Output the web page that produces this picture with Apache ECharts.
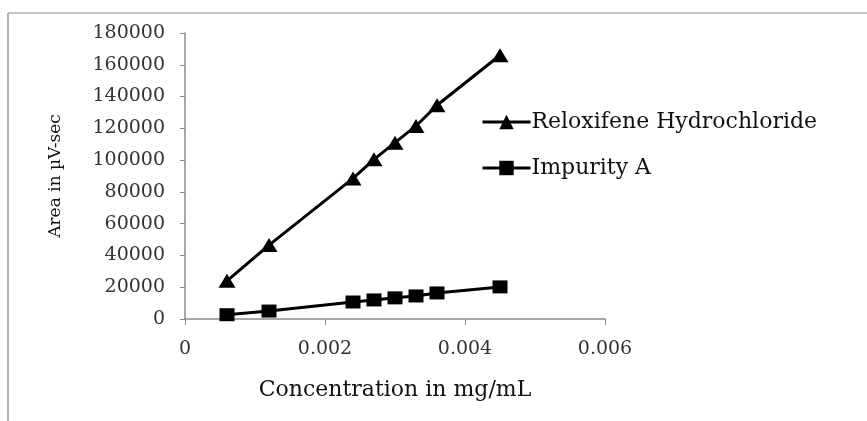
<!DOCTYPE html>
<html>
<head>
<meta charset="utf-8">
<script src="https://cdn.jsdelivr.net/npm/echarts@6/dist/echarts.min.js"></script>
<style>
  html, body { margin: 0; padding: 0; background: #fff; }
  #chart { width: 867px; height: 421px; }
</style>
</head>
<body>
<div id="chart"></div>
<script>
// concentration (mg/mL)
const concentrations = [0.0006, 0.0012, 0.0024, 0.0027, 0.0030, 0.0033, 0.0036, 0.0045];
// peak area (µV-sec)
const reloxifeneArea = [24000, 46500, 88500, 100500, 111000, 121500, 134500, 166000];
const impurityArea = [2700, 5000, 10700, 12000, 13300, 14500, 16400, 20200];
const seriesNames = ['Reloxifene Hydrochloride', 'Impurity A'];

const serif = '"DejaVu Serif", "Liberation Serif", serif';

let chartDom = document.getElementById('chart');
let myChart = echarts.init(chartDom);

function toPairs(xs, ys) {
  return xs.map((x, i) => [x, ys[i]]);
}

const option = {
  animation: false,
  backgroundColor: '#fff',
  graphic: [
    // frame of the original picture (top and left edges)
    { type: 'line', shape: { x1: 8, y1: 13, x2: 867, y2: 13 }, style: { stroke: '#c4c4c4', lineWidth: 2 } },
    { type: 'line', shape: { x1: 8, y1: 13, x2: 8, y2: 421 }, style: { stroke: '#b0b0b0', lineWidth: 2 } }
  ],
  grid: { left: 185, top: 33, width: 420, height: 286 },
  legend: {
    orient: 'vertical',
    left: 476,
    top: 106,
    itemWidth: 48,
    itemHeight: 18,
    itemGap: 24,
    lineStyle: { width: 3 },
    textStyle: { fontFamily: serif, fontSize: 22, color: '#111', padding: [0, 0, 0, -4] },
    data: seriesNames
  },
  xAxis: {
    type: 'value',
    min: 0,
    max: 0.006,
    interval: 0.002,
    name: 'Concentration in mg/mL',
    nameLocation: 'middle',
    nameGap: 60,
    nameTextStyle: { fontFamily: serif, fontSize: 22, color: '#111' },
    splitLine: { show: false },
    axisLine: { lineStyle: { color: '#8c8c8c', width: 1.5 } },
    axisTick: { show: true, length: 6, lineStyle: { color: '#8c8c8c' } },
    axisLabel: {
      fontFamily: serif, fontSize: 19, color: '#333', margin: 21,
      formatter: v => v === 0 ? '0' : v.toFixed(3)
    }
  },
  yAxis: {
    type: 'value',
    min: 0,
    max: 180000,
    interval: 20000,
    name: 'Area in µV-sec',
    nameLocation: 'middle',
    nameGap: 121,
    nameTextStyle: { fontFamily: serif, fontSize: 17, color: '#111' },
    splitLine: { show: false },
    axisLine: { show: true, lineStyle: { color: '#8c8c8c', width: 1.5 } },
    axisTick: { show: true, length: 5, lineStyle: { color: '#8c8c8c' } },
    axisLabel: {
      fontFamily: serif, fontSize: 19, color: '#333', margin: 20,
      formatter: v => String(v)
    }
  },
  series: [
    {
      name: seriesNames[0],
      type: 'line',
      data: toPairs(concentrations, reloxifeneArea),
      symbol: 'triangle',
      symbolSize: [17, 14],
      lineStyle: { color: '#000', width: 3 },
      itemStyle: { color: '#000' }
    },
    {
      name: seriesNames[1],
      type: 'line',
      data: toPairs(concentrations, impurityArea),
      symbol: 'rect',
      symbolSize: [15, 13],
      lineStyle: { color: '#000', width: 3 },
      itemStyle: { color: '#000' }
    }
  ]
};

myChart.setOption(option);

window.addEventListener('resize', function() {
  myChart.resize();
});
</script>
</body>
</html>
